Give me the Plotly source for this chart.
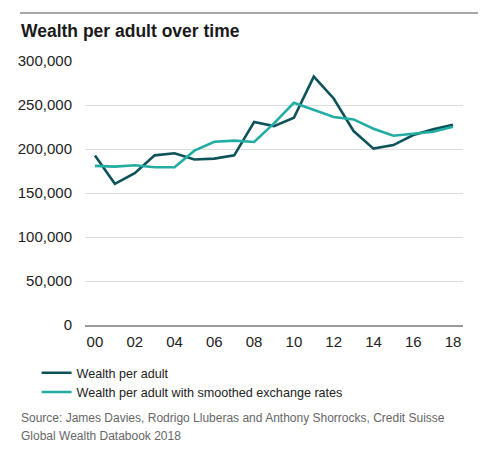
import plotly.graph_objects as go

years = list(range(2000, 2019))
tick_vals = [2000, 2002, 2004, 2006, 2008, 2010, 2012, 2014, 2016, 2018]
tick_text = ["00", "02", "04", "06", "08", "10", "12", "14", "16", "18"]

wealth = [192500, 160400, 172500, 192800, 195100, 188000, 189100, 192800, 230600, 226000,
          235500, 282300, 257400, 220400, 200400, 204500, 215900, 222300, 227600]
wealth_smoothed = [180800, 180000, 181500, 179300, 179300, 198100, 208300, 209500, 208000, 229100,
                   252500, 244200, 236300, 233600, 223000, 215100, 217000, 219600, 225300]

y_ticks = [0, 50000, 100000, 150000, 200000, 250000, 300000]

FONT = "Liberation Sans, Arial, Helvetica, sans-serif"
DARK = "#0e535a"
TEAL = "#22aca2"

W, H = 500, 450
OFF = 8  # page body margin


def px(x):
    return (x - OFF) / W


def py(y):
    return 1 - (y - OFF) / H


fig = go.Figure()
fig.add_trace(go.Scatter(x=years, y=wealth, mode="lines", name="Wealth per adult",
                         line=dict(color=DARK, width=2.6)))
fig.add_trace(go.Scatter(x=years, y=wealth_smoothed, mode="lines",
                         name="Wealth per adult with smoothed exchange rates",
                         line=dict(color=TEAL, width=2.6)))

fig.update_layout(
    width=W, height=H,
    margin=dict(l=0, r=0, t=0, b=0, autoexpand=False),
    paper_bgcolor="white", plot_bgcolor="white",
    font=dict(family=FONT, color="#222222"),
    showlegend=True,
    legend=dict(x=px(36.6), y=py(358), xanchor="left", yanchor="top",
                orientation="v", font=dict(size=12.6, color="#222222"),
                bgcolor="rgba(0,0,0,0)", tracegroupgap=0, itemwidth=30),
    xaxis=dict(domain=[px(85), px(463)], range=[1999.5, 2018.5],
               tickvals=tick_vals, ticktext=tick_text,
               showgrid=False, zeroline=False, showline=True, linecolor="#9a9a9a",
               linewidth=1.5, ticks="", ticklabelstandoff=2,
               tickfont=dict(size=15, color="#222222"), fixedrange=True),
    yaxis=dict(domain=[py(325), py(61)], range=[0, 300000], tickvals=y_ticks,
               ticktext=[f"{v:,}" for v in y_ticks],
               showgrid=True, gridcolor="#dedede", gridwidth=1,
               zeroline=False, showline=False, ticks="",
               ticklabelstandoff=12,
               tickfont=dict(size=15, color="#222222"), fixedrange=True),
    shapes=[dict(type="rect", xref="paper", yref="paper", layer="above",
                 x0=px(20), x1=px(478), y0=py(13.7), y1=py(12.3),
                 fillcolor="#8a8a8a", line=dict(width=0))],
)

fig.add_annotation(text="<b>Wealth per adult over time</b>", xref="paper", yref="paper",
                   x=px(19), y=py(31), xanchor="left", yanchor="middle",
                   showarrow=False, font=dict(size=17.5, color="#1a1a1a", family=FONT))

fig.add_annotation(text="Source: James Davies, Rodrigo Lluberas and Anthony Shorrocks, Credit Suisse",
                   xref="paper", yref="paper", x=px(19), y=py(418),
                   xanchor="left", yanchor="middle", align="left", showarrow=False,
                   font=dict(size=12, color="#666666", family=FONT))
fig.add_annotation(text="Global Wealth Databook 2018",
                   xref="paper", yref="paper", x=px(19), y=py(436),
                   xanchor="left", yanchor="middle", align="left", showarrow=False,
                   font=dict(size=12, color="#666666", family=FONT))

fig.write_html("out.html")
